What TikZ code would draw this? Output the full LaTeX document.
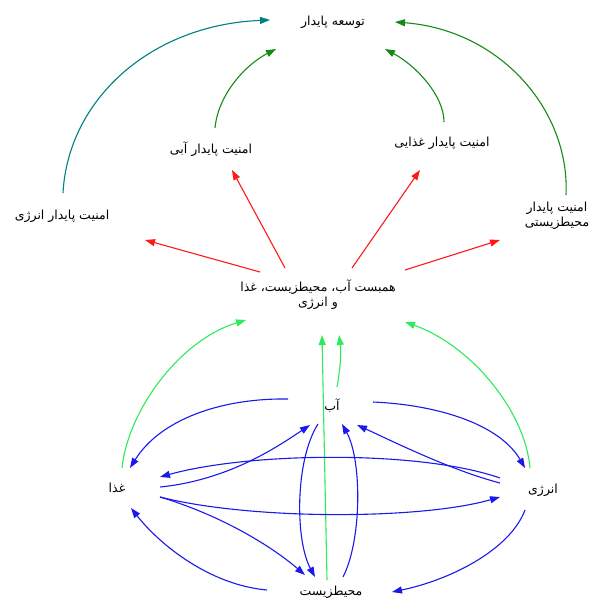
\documentclass[tikz,border=0pt]{standalone}
\usepackage{fontspec}
\newfontfamily\fa[Script=Arabic]{DejaVu Sans}
\TeXXeTstate=1
\usetikzlibrary{arrows.meta,calc}
\definecolor{cblue}{RGB}{25,25,235}
\definecolor{cred}{RGB}{255,25,25}
\definecolor{cbright}{RGB}{45,235,90}
\definecolor{cgreen}{RGB}{20,140,20}
\definecolor{cteal}{RGB}{0,128,128}
\begin{document}
\begin{tikzpicture}[x=1pt,y=-1pt,
  lbl/.style={font=\fa\fontsize{12.5}{15}\selectfont, inner sep=0pt, align=center},
  conn/.style={line width=1.1pt, -{Triangle[length=10pt,width=7pt]}}]
\clip (0,0) rectangle (591,601);
\fill[white] (0,0) rectangle (591,601);
% nodes
\node[lbl] (T)  at (333,22)  {\beginR توسعه پایدار\endR};
\node[lbl] (AS) at (211,149) {\beginR امنیت پایدار آبی\endR};
\node[lbl] (FS) at (442,143) {\beginR امنیت پایدار غذایی\endR};
\node[lbl] (ES) at (62,216)  {\beginR امنیت پایدار انرژی\endR};
\node[lbl] (VS) at (557,216) {\beginR امنیت پایدار\endR\\\beginR محیطزیستی\endR};
\node[lbl] (N)  at (318,295) {\beginR همبست آب، محیطزیست، غذا\endR\\\beginR و انرژی\endR};
\node[lbl] (A)  at (332,406) {\beginR آب\endR};
\node[lbl] (F)  at (117,488) {\beginR غذا\endR};
\node[lbl] (E)  at (543,490) {\beginR انرژی\endR};
\node[lbl] (V)  at (331,592) {\beginR محیطزیست\endR};
% to top
\draw[conn,cteal]  ($(ES)+(1,-23)$) .. controls (68,100) and (150,25) .. ($(T)+(-63,-2)$);
\draw[conn,cgreen] ($(AS)+(4,-21)$) .. controls (218,95) and (245,65) .. ($(T)+(-57,27)$);
\draw[conn,cgreen] ($(FS)+(2,-21)$) .. controls (444,95) and (415,65) .. ($(T)+(52,27)$);
\draw[conn,cgreen] ($(VS)+(9,-21)$) .. controls (570,110) and (500,30) .. ($(T)+(62,0)$);
% red
\draw[conn,cred] ($(N)+(-58,-23)$) -- ($(ES)+(83,24)$);
\draw[conn,cred] ($(N)+(-33,-27)$) -- ($(AS)+(21,21)$);
\draw[conn,cred] ($(N)+(34,-27)$) -- ($(FS)+(-22,27)$);
\draw[conn,cred] ($(N)+(87,-25)$) -- ($(VS)+(-57,24)$);
% bright green
\draw[conn,cbright] ($(F)+(5,-20)$) .. controls (128,410) and (180,340) .. ($(N)+(-72,25)$);
\draw[conn,cbright] ($(E)+(-13,-22)$) .. controls (525,410) and (470,345) .. ($(N)+(87,27)$);
\draw[conn,cbright] ($(V)+(-4,-12)$) -- ($(N)+(4,40)$);
\draw[conn,cbright] ($(A)+(5,-19)$) .. controls (341,365) and (341,350) .. ($(N)+(21,40)$);
% blue
\draw[conn,cblue] ($(A)+(-44,-7)$) .. controls (220,398) and (160,420) .. ($(F)+(13,-20)$);
\draw[conn,cblue] ($(E)+(-43,-12)$) .. controls (420,450) and (250,452) .. ($(F)+(43,-11)$);
\draw[conn,cblue] ($(F)+(43,-1)$) .. controls (230,480) and (280,445) .. ($(A)+(-22,19)$);
\draw[conn,cblue] ($(F)+(43,9)$) .. controls (250,520) and (420,520) .. ($(E)+(-43,7)$);
\draw[conn,cblue] ($(F)+(43,9)$) .. controls (220,515) and (270,545) .. ($(V)+(-26,-17)$);
\draw[conn,cblue] ($(A)+(-14,18)$) .. controls (295,460) and (295,540) .. ($(V)+(-16,-15)$);
\draw[conn,cblue] ($(V)+(12,-15)$) .. controls (362,540) and (362,460) .. ($(A)+(10,18)$);
\draw[conn,cblue] ($(E)+(-43,-7)$) .. controls (450,470) and (390,440) .. ($(A)+(25,19)$);
\draw[conn,cblue] ($(V)+(-64,-2)$) .. controls (210,585) and (160,545) .. ($(F)+(14,20)$);
\draw[conn,cblue] ($(E)+(-18,20)$) .. controls (510,550) and (450,580) .. ($(V)+(61,0)$);
\draw[conn,cblue] ($(A)+(41,-4)$) .. controls (440,405) and (500,425) .. ($(E)+(-18,-22)$);
\end{tikzpicture}
\end{document}
